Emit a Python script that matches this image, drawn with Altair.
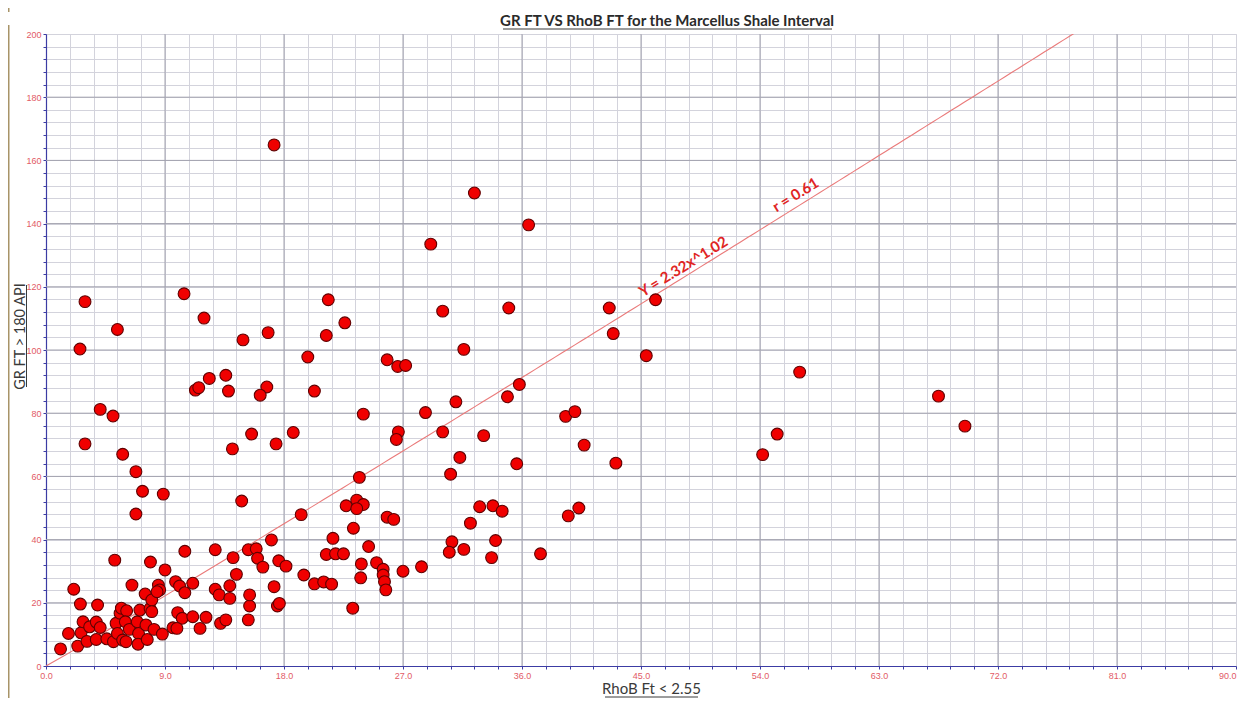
import altair as alt
import pandas as pd

# ---------------- data ----------------
RHOB_FT = [
    17.25, 32.4, 36.5, 29.1, 10.44, 2.95, 21.35, 11.95, 30.0, 35.0, 42.6, 46.1, 22.6, 5.4,
    2.57, 14.9, 16.8, 21.2, 42.9, 31.6, 45.4, 19.8, 25.8, 26.6, 27.2, 57.0, 12.35, 13.6,
    11.3, 11.55, 13.8, 16.7, 16.2, 20.3, 35.8, 34.9, 67.5, 31.0, 4.1, 5.07, 24.0, 28.7,
    39.3, 40.0, 69.5, 26.65, 26.5, 30.0, 18.7, 15.55, 33.1, 55.3, 17.4, 2.95, 40.7, 14.1,
    5.8, 54.2, 31.3, 43.1, 35.6, 30.6, 23.7, 6.8, 7.3, 8.87, 6.8, 14.8, 19.3,
    22.7, 23.5, 24.0, 23.5, 23.25, 25.8, 26.3, 32.8, 33.8, 34.5, 32.1, 39.5, 40.3, 30.7,
    30.5, 31.6, 34.0, 33.7, 37.4, 24.4, 23.85, 23.8, 25.0, 25.5, 25.5, 25.6, 25.7, 27.0,
    28.4, 23.2, 21.7, 21.2, 21.9, 22.5, 19.5, 20.3, 21.0, 21.6, 17.05, 17.6, 18.15, 15.3,
    15.9, 16.0, 16.4, 14.15, 12.8, 10.5, 5.2, 7.9, 9.0,
    2.1, 2.6, 3.9, 1.1, 1.7, 2.4, 2.65, 2.8, 3.1, 3.3, 3.8, 3.8, 4.1, 4.6, 5.1, 5.3, 5.4,
    5.6, 5.7, 5.8, 6.05, 6.1, 6.0, 6.3, 6.5, 6.9, 7.0, 6.96, 7.1, 7.5, 7.56, 7.66, 7.87,
    8.0, 8.0, 8.17, 8.5, 8.6, 8.4, 8.8, 9.8, 10.1, 10.5, 9.96, 10.3, 9.6, 9.9, 11.1, 11.1,
    11.65, 12.1, 12.8, 13.1, 13.2, 13.6, 13.9, 13.9, 14.4, 15.3, 15.4, 15.4, 17.25, 17.5,
    17.65,
]
GR_FT = [
    164.9, 149.7, 139.6, 133.5, 117.8, 115.3, 115.9, 110.1, 112.3, 113.3, 113.3, 115.9, 108.6, 106.5,
    100.3, 103.2, 105.5, 104.6, 105.2, 100.2, 98.2, 97.8, 96.9, 94.8, 95.1, 93.0, 91.0, 92.0,
    87.3, 88.1, 87.0, 88.3, 85.7, 87.0, 89.1, 85.2, 85.4, 83.6, 81.2, 79.1, 79.7, 80.2,
    79.0, 80.5, 75.9, 74.1, 71.7, 74.1, 73.9, 73.4, 72.9, 73.4, 70.3, 70.3, 69.9, 68.7,
    67.0, 66.9, 66.0, 64.2, 64.0, 60.7, 59.7, 61.5, 55.3, 54.4, 48.1, 52.2, 47.9,
    50.7, 52.5, 51.1, 49.8, 43.6, 47.1, 46.4, 50.4, 50.7, 49.0, 45.2, 47.5, 50.0, 39.3,
    36.0, 36.9, 39.7, 34.3, 35.5, 37.8, 32.3, 27.9, 32.7, 30.6, 28.8, 26.7, 24.1, 30.0,
    31.4, 18.3, 40.4, 35.3, 35.5, 35.5, 28.8, 26.0, 26.6, 25.9, 39.9, 33.3, 31.6, 36.8,
    37.1, 34.1, 31.3, 34.3, 36.8, 36.3, 33.5, 32.9, 30.4,
    24.3, 19.6, 19.3, 5.4, 10.3, 6.3, 10.5, 14.0, 7.8, 12.4, 13.9, 8.4, 12.2, 8.6, 7.7, 13.5, 10.3,
    16.7, 18.3, 8.2, 7.7, 17.5, 14.0, 11.6, 25.6, 14.0, 10.3, 6.9, 17.7, 22.8, 13.0, 8.4, 18.2,
    20.9, 17.2, 11.6, 25.6, 24.1, 23.5, 10.1, 26.7, 25.3, 23.2, 16.9, 15.1, 12.1, 11.9, 26.2, 15.6,
    11.9, 15.4, 24.3, 22.5, 13.5, 14.6, 25.4, 21.4, 29.0, 14.6, 19.0, 22.5, 25.1, 19.0,
    19.8,
]

TITLE = "GR FT VS RhoB FT for the Marcellus Shale Interval"
X_TITLE = "RhoB Ft < 2.55"
Y_TITLE = "GR FT > 180 API"

X_MINOR = [0, 1.8, 3.6, 5.4, 7.2, 9, 10.8, 12.6, 14.4, 16.2, 18, 19.8, 21.6, 23.4, 25.2, 27,
           28.8, 30.6, 32.4, 34.2, 36, 37.8, 39.6, 41.4, 43.2, 45, 46.8, 48.6, 50.4, 52.2, 54,
           55.8, 57.6, 59.4, 61.2, 63, 64.8, 66.6, 68.4, 70.2, 72, 73.8, 75.6, 77.4, 79.2, 81,
           82.8, 84.6, 86.4, 88.2, 90]
X_MAJOR = [9, 18, 27, 36, 45, 54, 63, 72, 81]
Y_MINOR = [0, 4, 8, 12, 16, 20, 24, 28, 32, 36, 40, 44, 48, 52, 56, 60, 64, 68, 72, 76, 80,
           84, 88, 92, 96, 100, 104, 108, 112, 116, 120, 124, 128, 132, 136, 140, 144, 148,
           152, 156, 160, 164, 168, 172, 176, 180, 184, 188, 192, 196, 200]
Y_MAJOR = [20, 40, 60, 80, 100, 120, 140, 160, 180]

# power-law trend line as drawn in the picture (labelled Y = 2.32x^1.02)
TREND_A = 2.36
TREND_B = 1.02
ANN_TEXT = ["Y = 2.32x^1.02", "r = 0.61"]
ANN_X = [48.2, 56.7]
ANN_Y = [126.4, 149.1]

# ---------------- styles ----------------
W, H = 1190, 632
BLUE = "#3c3ca4"
LABEL_RED = "#e25a66"
xs = alt.Scale(domain=[0, 90], nice=False, zero=False)
ys = alt.Scale(domain=[0, 200], nice=False, zero=False)

pts = pd.DataFrame({"x": RHOB_FT, "y": GR_FT})

x_axis = alt.Axis(
    values=X_MINOR,
    labelExpr="abs(datum.value/9 - round(datum.value/9)) < 0.001 ? format(datum.value, '.1f') : ''",
    labelAlign={"condition": {"test": "datum.value > 89", "value": "right"}, "value": "center"},
    grid=True, gridColor="#d3d3dc", gridWidth=1,
    domainColor=BLUE, domainWidth=1.2, tickColor=BLUE, tickSize=3,
    labelColor=LABEL_RED, labelFont="Liberation Sans", labelFontSize=9, labelPadding=2,
    labelOverlap=False, labelFlush=False,
    title=X_TITLE, titleFont="Lato", titleFontSize=15, titleFontWeight="normal",
    titleColor="#3a3a3a", titleX=605, titleY=27, titleAlign="center",
    titleBaseline="alphabetic",
)
y_axis = alt.Axis(
    values=Y_MINOR,
    labelExpr="datum.value % 20 == 0 ? format(datum.value, 'd') : ''",
    grid=True, gridColor="#d3d3dc", gridWidth=1,
    domainColor=BLUE, domainWidth=1.2, tickColor=BLUE, tickSize=3,
    labelColor=LABEL_RED, labelFont="Liberation Sans", labelFontSize=9, labelPadding=2,
    labelOverlap=False, labelFlush=False,
    title=Y_TITLE, titleFont="Lato", titleFontSize=14.5, titleFontWeight="normal",
    titleColor="#3a3a3a", titleX=-22, titleY=302, titleAngle=270, titleAlign="center",
    titleBaseline="alphabetic",
)


def X(field):
    return alt.X(field, scale=xs, axis=x_axis, title=X_TITLE)


def Y(field):
    return alt.Y(field, scale=ys, axis=y_axis, title=Y_TITLE)


points = alt.Chart(pts).mark_circle(
    size=140, color="#f00000", opacity=1, stroke="#600000", strokeWidth=1.1
).encode(x=X("x:Q"), y=Y("y:Q"))

gx = alt.Chart(pd.DataFrame({"x": X_MAJOR})).mark_rule(color="#a2a2ae", strokeWidth=1).encode(
    x=X("x:Q"))
gy = alt.Chart(pd.DataFrame({"y": Y_MAJOR})).mark_rule(color="#a2a2ae", strokeWidth=1).encode(
    y=Y("y:Q"))

trend = (
    alt.Chart(alt.sequence(0, 82, 0.5, as_="x"))
    .transform_calculate(y=f"{TREND_A} * pow(datum.x, {TREND_B})")
    .mark_line(color="#ea7a7a", strokeWidth=1.1, clip=True)
    .encode(x=X("x:Q"), y=Y("y:Q"))
)

ann = alt.Chart(pd.DataFrame({"t": ANN_TEXT, "x": ANN_X, "y": ANN_Y})).mark_text(
    font="Lato", fontSize=15, fontWeight="bold", color="#e02424", angle=328.5
).encode(x=X("x:Q"), y=Y("y:Q"), text="t:N")

one = pd.DataFrame({"a": [0]})
title_ul = alt.Chart(one).mark_rule(color="#3a3a3a", strokeWidth=1.2).encode(
    x=alt.value(457), x2=alt.value(786), y=alt.value(-5))
xt_ul = alt.Chart(one).mark_rule(color="#3a3a3a", strokeWidth=1).encode(
    x=alt.value(559), x2=alt.value(652), y=alt.value(663))
yt_ul = alt.Chart(one).mark_rule(color="#3a3a3a", strokeWidth=1).encode(
    x=alt.value(-19.5), y=alt.value(251), y2=alt.value(353))
edge = alt.Chart(one).mark_rule(color="#a89468", strokeWidth=2).encode(
    x=alt.value(-37.5), y=alt.value(-9), y2=alt.value(680))
edge_top = alt.Chart(one).mark_rule(color="#a89468", strokeWidth=2).encode(
    x=alt.value(-37.5), y=alt.value(-26), y2=alt.value(-22))

chart = (
    alt.layer(gx, gy, trend, points, ann, title_ul, xt_ul, yt_ul, edge, edge_top)
    .properties(
        width=W, height=H,
        title=alt.Title(TITLE, font="Lato", fontSize=15, fontWeight="bold", color="#2a2a2a",
                        anchor="middle", dx=26, dy=28, offset=6),
        padding={"left": 38, "top": 26, "right": 1, "bottom": 32},
        autosize=alt.AutoSizeParams(type="none"),
    )
    .configure_view(stroke="#8c8c98", strokeWidth=1)
    .configure(background="white")
)

chart.save("out.html", embed_options={"renderer": "svg", "actions": False})
